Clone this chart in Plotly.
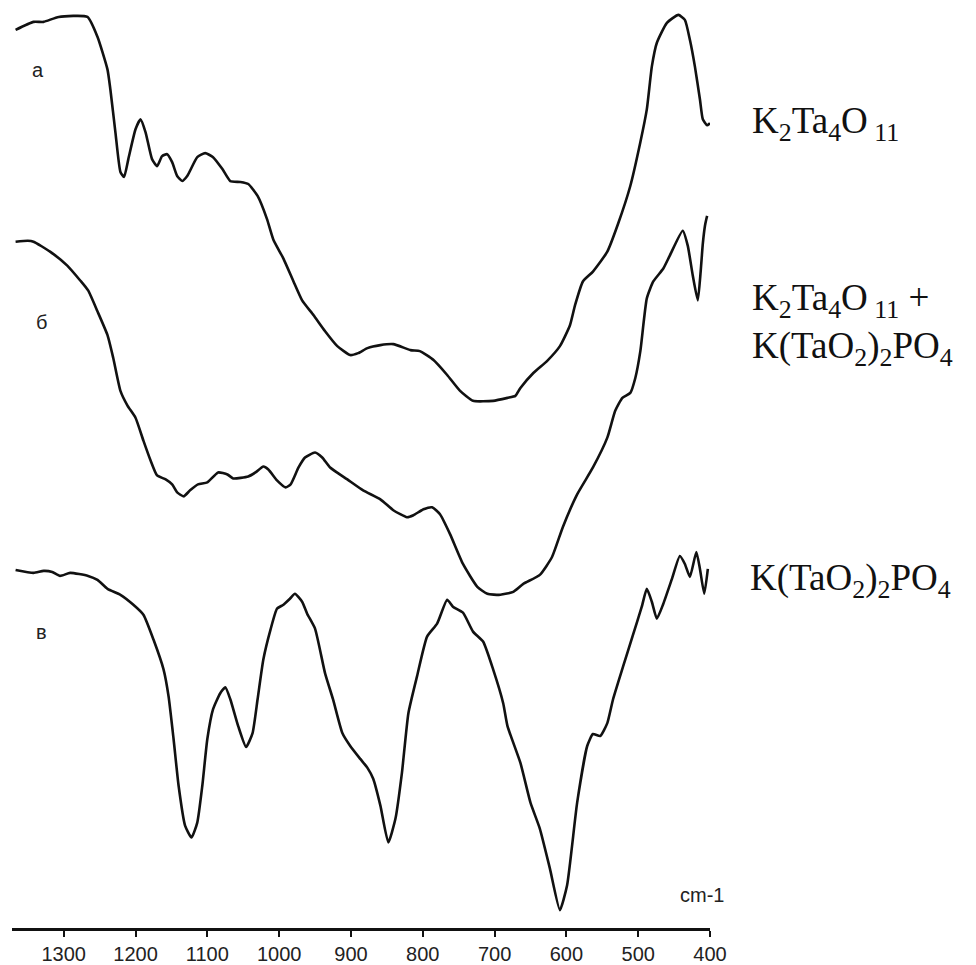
import plotly.graph_objects as go

# IR spectra (transmittance, arbitrary units, curves stacked vertically)
wn_a = [1367, 1342, 1328, 1307, 1267, 1253, 1239, 1235, 1228, 1221, 1216, 1210, 1200,
        1193, 1186, 1177, 1170, 1163, 1156, 1149, 1142, 1135, 1128, 1114, 1103, 1092,
        1079, 1068, 1054, 1043, 1030, 1017, 1008, 994, 980, 968, 952, 936, 919, 901,
        890, 877, 859, 841, 817, 804, 785, 766, 748, 730, 702, 682, 671, 664, 646, 627,
        609, 595, 588, 577, 563, 543, 528, 511, 497, 488, 481, 474, 460, 444, 435, 428,
        421, 414, 410, 404, 400]
t_a = [90.3, 91.1, 91.1, 91.6, 91.6, 89.6, 86.3, 84.3, 80.0, 76.0, 75.5, 77.3, 80.3,
       81.3, 80.0, 77.3, 76.6, 77.6, 77.8, 77.0, 75.6, 75.1, 75.6, 77.5, 77.9, 77.5,
       76.3, 75.1, 75.0, 74.8, 73.6, 71.3, 69.2, 67.3, 65.0, 63.1, 61.6, 60.0, 58.5, 57.6,
       57.8, 58.3, 58.6, 58.7, 58.1, 58.0, 57.1, 55.6, 54.0, 53.0, 53.0, 53.3, 53.5, 54.3,
       55.8, 57.0, 58.5, 60.6, 62.6, 65.0, 66.0, 68.0, 70.8, 74.6, 79.0, 82.3, 86.6, 89.0,
       91.0, 91.8, 91.3, 89.3, 86.6, 83.3, 81.3, 80.7, 80.9]

wn_b = [1367, 1350, 1342, 1319, 1295, 1277, 1266, 1253, 1239, 1231, 1221, 1211, 1200,
        1189, 1179, 1170, 1158, 1149, 1142, 1133, 1124, 1113, 1100, 1085, 1072, 1064,
        1043, 1033, 1022, 1015, 1003, 991, 984, 973, 964, 950, 940, 929, 905, 883, 859,
        841, 822, 813, 799, 787, 776, 762, 744, 724, 710, 692, 674, 660, 637, 620, 605,
        585, 563, 543, 532, 522, 511, 504, 497, 488, 479, 465, 456, 438, 431, 424, 417,
        413, 410, 407, 405, 404]
t_b = [69.0, 69.1, 69.0, 68.0, 66.6, 65.1, 64.1, 62.0, 59.6, 57.3, 54.0, 52.5, 51.3,
       49.0, 47.0, 45.5, 45.1, 44.6, 43.8, 43.4, 44.0, 44.6, 44.8, 45.8, 45.6, 45.2,
       45.4, 45.8, 46.4, 46.1, 45.0, 44.3, 44.6, 46.3, 47.3, 47.8, 47.3, 46.3, 45.1, 44.0,
       43.1, 42.0, 41.3, 41.5, 42.1, 42.3, 41.6, 39.6, 36.6, 34.3, 33.6, 33.5, 33.8, 34.6,
       35.5, 37.3, 40.3, 43.6, 46.3, 49.3, 52.0, 53.3, 53.8, 55.3, 58.0, 63.3, 65.0, 66.3,
       67.6, 70.1, 68.6, 65.6, 63.1, 66.0, 68.8, 70.6, 71.3, 71.6]

wn_c = [1367, 1342, 1328, 1316, 1305, 1291, 1266, 1253, 1239, 1221, 1203, 1189, 1175,
        1161, 1154, 1147, 1140, 1131, 1122, 1114, 1107, 1100, 1092, 1082, 1075, 1068,
        1057, 1046, 1037, 1030, 1022, 1012, 1003, 994, 985, 978, 968, 961, 950, 936, 925,
        912, 901, 887, 877, 869, 859, 848, 838, 829, 820, 808, 794, 780, 766, 758, 744,
        730, 716, 702, 688, 682, 664, 650, 637, 623, 609, 599, 585, 571, 563, 553, 543,
        535, 521, 508, 495, 488, 481, 474, 465, 453, 442, 435, 428, 419, 414, 408, 403]
t_c = [36.0, 35.7, 35.9, 35.8, 35.4, 35.7, 35.4, 35.0, 34.1, 33.5, 32.5, 31.5, 29.0,
       26.0, 23.3, 19.0, 14.3, 10.3, 9.1, 10.6, 14.3, 19.0, 22.0, 23.6, 24.2, 23.0,
       20.3, 18.2, 19.6, 23.0, 27.0, 30.0, 32.1, 32.5, 33.1, 33.6, 32.8, 31.6, 30.1, 25.6,
       23.0, 19.6, 18.3, 17.0, 16.1, 15.0, 12.3, 8.6, 11.0, 15.6, 21.6, 25.3, 29.3, 30.6,
       33.0, 32.3, 31.7, 29.8, 28.8, 26.0, 22.6, 20.3, 16.6, 12.6, 10.0, 6.0, 1.8, 4.3,
       12.6, 18.3, 19.5, 19.3, 20.6, 23.0, 26.3, 29.3, 32.3, 34.1, 32.8, 31.1, 32.6, 35.1,
       37.4, 36.6, 35.3, 37.8, 36.1, 33.6, 36.1]

tick_vals = [1300, 1200, 1100, 1000, 900, 800, 700, 600, 500, 400]

fig = go.Figure()
for wn, t in [(wn_a, t_a), (wn_b, t_b), (wn_c, t_c)]:
    fig.add_trace(go.Scatter(
        x=wn, y=t, mode="lines",
        line=dict(color="#111111", width=2.6, shape="spline", smoothing=0.5),
        showlegend=False, hoverinfo="skip",
    ))

PLOT_W = 976 - 12 - 266
PLOT_H = 933


def px(x):
    return (x - 12) / PLOT_W


def py(y):
    return (933 - y) / PLOT_H


sans = dict(family="Arial, Liberation Sans, sans-serif", size=20, color="#222222")
serif = dict(family="Times New Roman, Liberation Serif, serif", size=37, color="#111111")

annotations = [
    dict(text="а", x=px(38), y=py(70), font=sans),
    dict(text="б", x=px(41), y=py(324), font=sans),
    dict(text="в", x=px(41), y=py(635), font=sans),
    dict(text="cm-1", x=px(702), y=py(900), font=sans),
    dict(text="K<sub>2</sub>Ta<sub>4</sub>O<sub> 11</sub>", x=px(750), y=py(124),
         xanchor="left", font=serif),
    dict(text="K<sub>2</sub>Ta<sub>4</sub>O<sub> 11</sub> +<br>K(TaO<sub>2</sub>)<sub>2</sub>PO<sub>4</sub>",
         x=px(750), y=py(326), xanchor="left", align="left", font=serif),
    dict(text="K(TaO<sub>2</sub>)<sub>2</sub>PO<sub>4</sub>", x=px(748), y=py(584),
         xanchor="left", font=serif),
]
for a in annotations:
    a.setdefault("xanchor", "center")
    a.update(xref="paper", yref="paper", yanchor="middle", showarrow=False)

fig.update_layout(
    width=976, height=965,
    margin=dict(l=12, r=266, t=0, b=32),
    paper_bgcolor="white", plot_bgcolor="white",
    annotations=annotations,
    xaxis=dict(
        range=[1372, 400], tickvals=tick_vals, ticktext=[str(v) for v in tick_vals],
        showline=True, linecolor="#111111", linewidth=3,
        ticks="outside", ticklen=6, tickwidth=2, tickcolor="#111111",
        showgrid=False, zeroline=False,
        tickfont=dict(family="Arial, Liberation Sans, sans-serif", size=20, color="#222222"),
    ),
    yaxis=dict(range=[0, 93.3], visible=False, showgrid=False, zeroline=False),
)

fig.write_html("out.html", config={"displayModeBar": False})
